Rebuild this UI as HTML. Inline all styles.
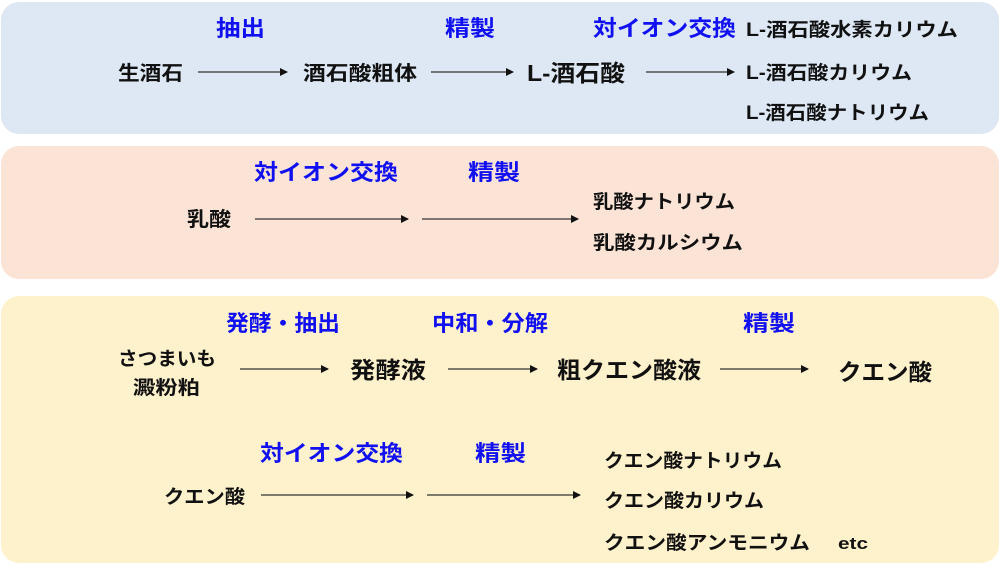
<!DOCTYPE html>
<html><head><meta charset="utf-8"><style>
html,body{margin:0;padding:0;background:#fff;}
svg{display:block;}
text{font-family:"Liberation Sans","Noto Sans CJK JP",sans-serif;font-weight:bold;}
.b{fill:#1010f0;font-size:22px;}
.k{fill:#111;}
</style></head><body>
<svg width="1000" height="570" viewBox="0 0 1000 570" xmlns="http://www.w3.org/2000/svg">
<defs><marker id="a" markerWidth="8" markerHeight="8" refX="7" refY="4" orient="auto" markerUnits="userSpaceOnUse"><path d="M0,0 L8,4 L0,8 z" fill="#111"/></marker></defs>
<rect x="1" y="2" width="998" height="132" rx="18" fill="#dde8f4"/>
<rect x="1" y="146" width="998" height="133" rx="18" fill="#fbe4d6"/>
<rect x="1" y="296" width="998" height="267" rx="18" fill="#fef2cc"/>
<g stroke="#333" stroke-width="1.3" marker-end="url(#a)">
<line x1="198" y1="72" x2="287" y2="72"/>
<line x1="431" y1="72" x2="513" y2="72"/>
<line x1="646" y1="72" x2="734" y2="72"/>
<line x1="255" y1="219" x2="408" y2="219"/>
<line x1="422" y1="219" x2="578" y2="219"/>
<line x1="240" y1="369" x2="328" y2="369"/>
<line x1="448" y1="369" x2="537" y2="369"/>
<line x1="720" y1="369" x2="808" y2="369"/>
<line x1="261" y1="495" x2="413" y2="495"/>
<line x1="427" y1="495" x2="580" y2="495"/>
</g>
<text class="b" x="216" y="36" textLength="49" lengthAdjust="spacingAndGlyphs">抽出</text>
<text class="b" x="445" y="36" textLength="50" lengthAdjust="spacingAndGlyphs">精製</text>
<text class="b" x="593" y="36" textLength="143" lengthAdjust="spacingAndGlyphs">対イオン交換</text>
<text class="k" x="118" y="80" font-size="20" textLength="65" lengthAdjust="spacingAndGlyphs">生酒石</text>
<text class="k" x="303" y="80" font-size="20" textLength="114" lengthAdjust="spacingAndGlyphs">酒石酸粗体</text>
<text class="k" x="527" y="81" font-size="23" textLength="98" lengthAdjust="spacingAndGlyphs">L-酒石酸</text>
<text class="k" x="746" y="36" font-size="19" textLength="212" lengthAdjust="spacingAndGlyphs">L-酒石酸水素カリウム</text>
<text class="k" x="746" y="79" font-size="19" textLength="166" lengthAdjust="spacingAndGlyphs">L-酒石酸カリウム</text>
<text class="k" x="746" y="119" font-size="19" textLength="183" lengthAdjust="spacingAndGlyphs">L-酒石酸ナトリウム</text>
<text class="b" x="254" y="180" textLength="144" lengthAdjust="spacingAndGlyphs">対イオン交換</text>
<text class="b" x="468" y="180" textLength="52" lengthAdjust="spacingAndGlyphs">精製</text>
<text class="k" x="187" y="226" font-size="20" textLength="44" lengthAdjust="spacingAndGlyphs">乳酸</text>
<text class="k" x="593" y="208" font-size="19" textLength="142" lengthAdjust="spacingAndGlyphs">乳酸ナトリウム</text>
<text class="k" x="593" y="249" font-size="19" textLength="150" lengthAdjust="spacingAndGlyphs">乳酸カルシウム</text>
<text class="b" x="226" y="331" textLength="114" lengthAdjust="spacingAndGlyphs">発酵・抽出</text>
<text class="b" x="432" y="331" textLength="116" lengthAdjust="spacingAndGlyphs">中和・分解</text>
<text class="b" x="743" y="331" textLength="52" lengthAdjust="spacingAndGlyphs">精製</text>
<text class="k" x="118" y="365" font-size="19" textLength="98" lengthAdjust="spacingAndGlyphs">さつまいも</text>
<text class="k" x="133" y="394" font-size="19" textLength="67" lengthAdjust="spacingAndGlyphs">澱粉粕</text>
<text class="k" x="350" y="378" font-size="23" textLength="76" lengthAdjust="spacingAndGlyphs">発酵液</text>
<text class="k" x="557" y="378" font-size="23" textLength="144" lengthAdjust="spacingAndGlyphs">粗クエン酸液</text>
<text class="k" x="838" y="380" font-size="23" textLength="94" lengthAdjust="spacingAndGlyphs">クエン酸</text>
<text class="b" x="260" y="461" textLength="143" lengthAdjust="spacingAndGlyphs">対イオン交換</text>
<text class="b" x="475" y="461" textLength="51" lengthAdjust="spacingAndGlyphs">精製</text>
<text class="k" x="164" y="503" font-size="19" textLength="81" lengthAdjust="spacingAndGlyphs">クエン酸</text>
<text class="k" x="604" y="467" font-size="19" textLength="178" lengthAdjust="spacingAndGlyphs">クエン酸ナトリウム</text>
<text class="k" x="604" y="507" font-size="19" textLength="160" lengthAdjust="spacingAndGlyphs">クエン酸カリウム</text>
<text class="k" x="604" y="549" font-size="19" textLength="206" lengthAdjust="spacingAndGlyphs">クエン酸アンモニウム</text>
<text class="k" x="838" y="549" font-size="17" textLength="30" lengthAdjust="spacingAndGlyphs">etc</text>
</svg>
</body></html>
